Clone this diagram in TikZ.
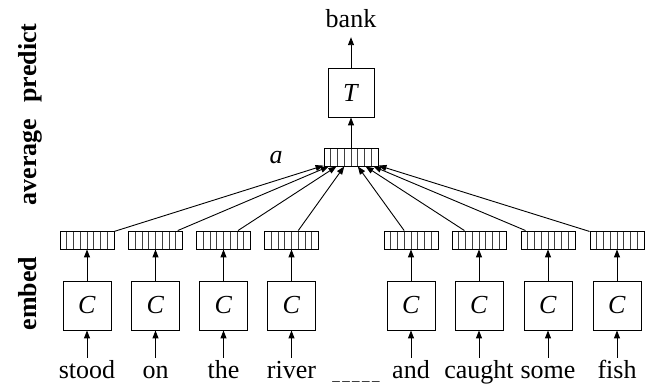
\documentclass[tikz,border=0pt]{standalone}
\usepackage{fontspec}
\setmainfont{Liberation Serif}
\usetikzlibrary{arrows.meta}
\begin{document}
\begin{tikzpicture}[x=1pt,y=-1pt,
  every node/.style={font=\fontsize{26}{30}\selectfont},
  >={Triangle[length=8pt,width=6pt]},
  conn/.style={->, line width=0.9pt},
  enc/.style={draw, line width=0.9pt, minimum width=48pt, minimum height=49pt, inner sep=0pt},
  vecbox/.style={draw, line width=0.9pt, minimum width=54pt, minimum height=18pt, inner sep=0pt,
    path picture={\foreach \i in {1,...,7}{\draw[line width=0.7pt, black!75]
      ([xshift=\i*6.75pt]path picture bounding box.south west) --
      ([xshift=\i*6.75pt]path picture bounding box.north west);}}},
  word/.style={inner sep=3pt, text height=18pt, text depth=6pt},
  rowlabel/.style={rotate=90, anchor=base, font=\fontsize{26}{30}\selectfont\bfseries}
]
\useasboundingbox (0,0) rectangle (649,387);

% row labels
\node[rowlabel] (lp) at (36,63) {predict};
\node[rowlabel] (la) at (36,162) {average};
\node[rowlabel] (le) at (36,293.5) {embed};

% context words, their encoders and embeddings
\foreach \n/\x/\w in {1/87/stood, 2/155.5/on, 3/223.5/the, 4/291.5/river,
                      5/411/and, 6/479/caught, 7/548/some, 8/617/fish} {
  \node[word, anchor=base] (w\n) at (\x,379) {\w};
  \node[enc] (c\n) at (\x,305.5) {\textit{C}};
  \node[vecbox] (v\n) at (\x,240) {};
  \draw[conn] (w\n) -- (c\n);
  \draw[conn] (c\n) -- (v\n);
}

% the blank to be predicted
\node[anchor=base, font=\fontsize{15}{18}\selectfont] (blank) at (356,380.5)
  {\_\kern2.4pt\_\kern2.4pt\_\kern2.4pt\_\kern2.4pt\_};

% averaged vector, predictor and output
\node[vecbox] (avg) at (351,157) {};
\node (alab) at (276,157.5) {\textit{a}};
\node[enc, minimum width=46pt] (T) at (351,92.5) {\textit{T}};
\node[word, anchor=base] (bank) at (351,28) {bank};

\foreach \n in {1,...,8} \draw[conn] (v\n) -- (avg);
\draw[conn] (avg) -- (T);
\draw[conn] (T) -- (bank);
\end{tikzpicture}
\end{document}
